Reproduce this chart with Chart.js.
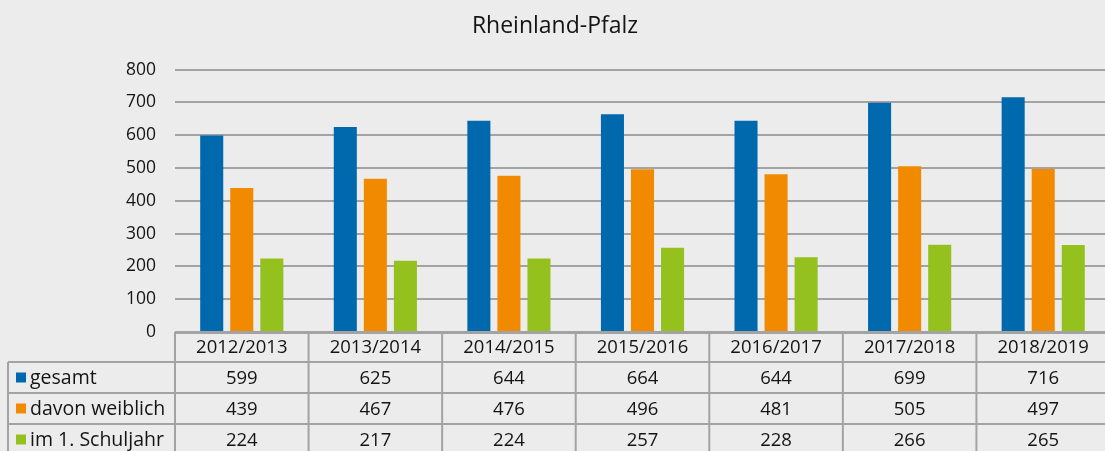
<!DOCTYPE html>
<html>
<head>
<meta charset="utf-8">
<script src="https://cdn.jsdelivr.net/npm/chart.js@4/dist/chart.umd.min.js"></script>
<style>
    html, body { margin: 0; padding: 0; background: #ececec; overflow: hidden; }
    #wrap { width: 1105px; height: 451px; overflow: hidden; }
    #inner { width: 1110px; height: 451px; position: relative; }
</style>
</head>
<body>
<div id="wrap"><div id="inner"><canvas id="chart"></canvas></div></div>
<script>
const years = ['2012/2013', '2013/2014', '2014/2015', '2015/2016', '2016/2017', '2017/2018', '2018/2019'];
const gesamt = [599, 625, 644, 664, 644, 699, 716];
const weiblich = [439, 467, 476, 496, 481, 505, 497];
const ersteSchuljahr = [224, 217, 224, 257, 228, 266, 265];
const seriesNames = ['gesamt', 'davon weiblich', 'im 1. Schuljahr'];
const yTicks = [0, 100, 200, 300, 400, 500, 600, 700, 800];

const colors = ['#0069ad', '#f28a00', '#95c11f'];
const fontFamily = '"Open Sans", "Noto Sans", sans-serif';
const textColor = '#141414';
const lineColor = '#a3a3a3';

// data table below the plot, positioned from the x scale
const dataTablePlugin = {
    id: 'dataTable',
    afterDraw(chart) {
        const ctx = chart.ctx;
        const area = chart.chartArea;
        const xScale = chart.scales.x;
        const colW = (area.right - area.left) / years.length;
        const headerTop = area.bottom;
        const rowH = 31;
        const headerH = 30;
        const legendLeft = 8;
        const rows = [gesamt, weiblich, ersteSchuljahr];

        ctx.save();
        ctx.strokeStyle = lineColor;
        ctx.lineWidth = 2;

        ctx.beginPath();
        ctx.moveTo(area.left, headerTop + 1);
        ctx.lineTo(area.right, headerTop + 1);
        for (let i = 0; i <= years.length; i++) {
            const x = area.left + i * colW;
            ctx.moveTo(x, headerTop);
            ctx.lineTo(x, chart.height);
        }
        for (let r = 0; r < rows.length; r++) {
            const y = headerTop + headerH + r * rowH;
            ctx.moveTo(legendLeft, y);
            ctx.lineTo(area.right, y);
        }
        ctx.moveTo(legendLeft, headerTop + headerH);
        ctx.lineTo(legendLeft, chart.height);
        ctx.stroke();

        ctx.fillStyle = textColor;
        ctx.font = '18.5px ' + fontFamily;
        ctx.textAlign = 'center';
        ctx.textBaseline = 'middle';
        years.forEach((label, i) => {
            ctx.fillText(label, xScale.getPixelForValue(i), headerTop + headerH / 2 + 1);
        });

        rows.forEach((vals, r) => {
            const cy = headerTop + headerH + r * rowH + rowH / 2 + 1;
            ctx.font = '18.5px ' + fontFamily;
            ctx.textAlign = 'center';
            ctx.fillStyle = textColor;
            vals.forEach((v, i) => {
                ctx.fillText(String(v), xScale.getPixelForValue(i), cy);
            });
            // legend key
            ctx.fillStyle = colors[r];
            ctx.fillRect(16, cy - 6, 10, 10);
            ctx.fillStyle = textColor;
            ctx.textAlign = 'left';
            ctx.font = '19.5px ' + fontFamily;
            ctx.fillText(seriesNames[r], 30, cy);
        });
        ctx.restore();
    }
};

new Chart(document.getElementById('chart'), {
    type: 'bar',
    data: {
        labels: years,
        datasets: [
            { label: seriesNames[0], data: gesamt, backgroundColor: colors[0] },
            { label: seriesNames[1], data: weiblich, backgroundColor: colors[1] },
            { label: seriesNames[2], data: ersteSchuljahr, backgroundColor: colors[2] }
        ]
    },
    options: {
        responsive: true,
        maintainAspectRatio: false,
        animation: false,
        categoryPercentage: 0.675,
        barPercentage: 0.767,
        layout: {
            padding: { left: 0, right: 0, top: 0, bottom: 119 }
        },
        scales: {
            x: {
                display: false
            },
            y: {
                min: 0,
                max: 800,
                afterFit: scale => { scale.width = 175; },
                afterBuildTicks: scale => { scale.ticks = yTicks.map(v => ({ value: v })); },
                border: { display: false },
                grid: {
                    color: lineColor,
                    lineWidth: 2,
                    drawTicks: false
                },
                ticks: {
                    padding: 19,
                    color: textColor,
                    font: { family: fontFamily, size: 17.5 }
                }
            }
        },
        plugins: {
            legend: { display: false },
            tooltip: { enabled: false },
            title: {
                display: true,
                text: 'Rheinland-Pfalz',
                color: textColor,
                font: { family: fontFamily, size: 23, weight: 'normal' },
                padding: { top: 13, bottom: 29 }
            }
        }
    },
    plugins: [dataTablePlugin]
});
</script>
</body>
</html>
